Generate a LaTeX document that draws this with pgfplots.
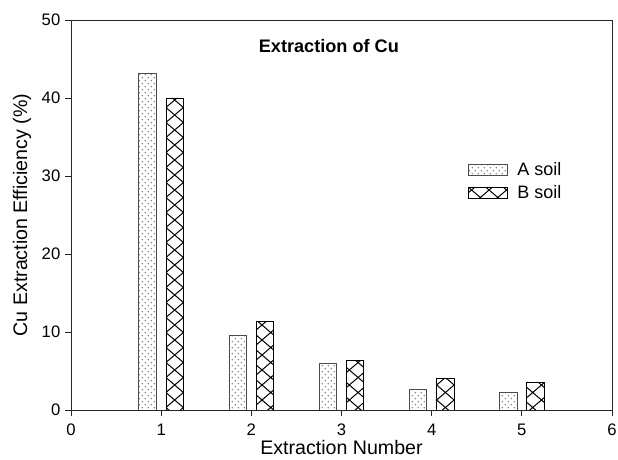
\documentclass[border=0pt]{standalone}
\usepackage{pgfplots}
\pgfplotsset{compat=1.18}
\usepackage{fontspec}
\setmainfont{Liberation Sans}
\usetikzlibrary{patterns}

% diagonal crosshatch (diamonds as wide as a bar)
\pgfdeclarepatternformonly{diamondhatch}{\pgfqpoint{-1pt}{-1pt}}{\pgfqpoint{14.1pt}{12.25pt}}{\pgfqpoint{13.1pt}{11.25pt}}{%
  \pgfsetlinewidth{0.75pt}%
  \pgfpathmoveto{\pgfqpoint{0pt}{0pt}}\pgfpathlineto{\pgfqpoint{13.1pt}{11.25pt}}%
  \pgfpathmoveto{\pgfqpoint{0pt}{11.25pt}}\pgfpathlineto{\pgfqpoint{13.1pt}{0pt}}%
  \pgfusepath{stroke}}
% staggered small gray dots
\pgfdeclarepatternformonly{sparsedots}{\pgfqpoint{-1pt}{-1pt}}{\pgfqpoint{5.5pt}{5.5pt}}{\pgfqpoint{4.5pt}{4.5pt}}{%
  \pgfpathcircle{\pgfqpoint{1pt}{1pt}}{0.65pt}%
  \pgfpathcircle{\pgfqpoint{3.25pt}{3.25pt}}{0.65pt}%
  \pgfusepath{fill}}

\begin{document}
\begin{tikzpicture}
\path[use as bounding box] (-53.25pt,-37.5pt) rectangle (410.25pt,307.5pt);
\begin{axis}[
    at={(0,0)}, anchor=south west,
    scale only axis,
    width=405.75pt, height=292.5pt,
    xmin=0, xmax=6, ymin=0, ymax=50,
    xtick={0,1,...,6}, ytick={0,10,...,50},
    xtick pos=left, ytick pos=left,
    tick align=outside,
    major tick length=4.5pt,
    axis line style={line width=0.7pt, black!85},
    tick style={line width=0.7pt, black!85},
    xlabel={Extraction Number},
    ylabel={Cu Extraction Efficiency (\%)},
    xlabel style={at={(axis description cs:0.5,-0.113)}, anchor=base},
    ylabel style={at={(axis description cs:-0.081,0.5)}, anchor=base},
    /pgf/number format/assume math mode=true,
    ticklabel style={font=\fontsize{12.5}{14}\selectfont},
    xticklabel style={yshift=-2.5pt},
    label style={font=\fontsize{14.7}{17}\selectfont},
    legend style={at={(0.734,0.64)}, anchor=north west, draw=none, fill=none,
                  inner sep=0pt, row sep=4pt, column sep=6pt,
                  font=\fontsize{13.5}{15}\selectfont,
                  nodes={inner sep=1pt, anchor=west}},
    legend cell align=left,
    legend image code/.code={\draw[#1, line width=0.6pt] (0pt,-4.1pt) rectangle (29.25pt,4.1pt);},
]
\addplot[ybar, bar width=13.1pt, bar shift=-10.2pt, draw=black!70, line width=0.6pt,
         fill=white, postaction={pattern=sparsedots, pattern color=black!45}]
  coordinates {(1,43.1) (2,9.5) (3,6.0) (4,2.6) (5,2.3)};
\addlegendentry{A soil}
\addplot[ybar, bar width=13.1pt, bar shift=10.2pt, draw=black, line width=0.6pt,
         fill=white, postaction={pattern=diamondhatch, pattern color=black}]
  coordinates {(1,40.0) (2,11.4) (3,6.4) (4,4.1) (5,3.6)};
\addlegendentry{B soil}
\node[font=\bfseries\fontsize{13.6}{15}\selectfont, anchor=base] at (axis cs:2.86,45.8) {Extraction of Cu};
\end{axis}
\end{tikzpicture}
\end{document}
